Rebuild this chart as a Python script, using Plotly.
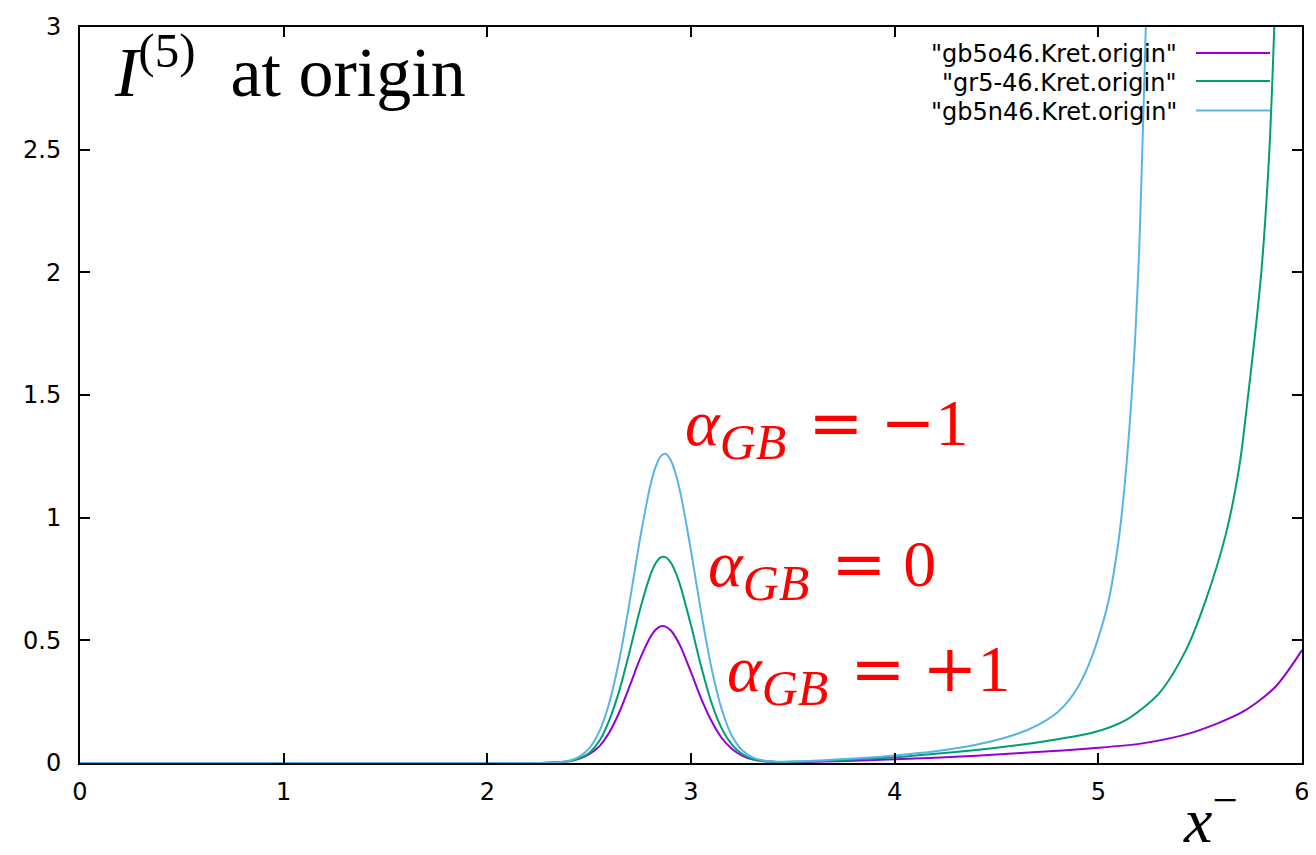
import plotly.graph_objects as go

# ---------------- data ----------------
series_names = ['"gb5o46.Kret.origin"', '"gr5-46.Kret.origin"', '"gb5n46.Kret.origin"']
series_colors = ["#9400d3", "#009e73", "#56b4e9"]

x_gb5o46 = [0.0, 2.2, 2.3, 2.35, 2.4, 2.45, 2.5, 2.55, 2.6, 2.65, 2.7, 2.75, 2.8, 2.825, 2.85, 2.875,
            2.9, 2.925, 2.95, 3.0, 3.05, 3.1, 3.15, 3.2, 3.25, 3.3, 3.35, 3.4, 3.45, 3.5, 3.6, 3.8,
            4.0, 4.2, 4.4, 4.6, 4.8, 4.97, 5.216, 5.46, 5.71, 5.87, 6.0]
y_gb5o46 = [0.0, 0.0, 0.001, 0.003, 0.007, 0.017, 0.036, 0.068, 0.126, 0.211, 0.316, 0.425, 0.513, 0.542, 0.557, 0.556,
            0.541, 0.512, 0.472, 0.370, 0.262, 0.172, 0.103, 0.058, 0.030, 0.015, 0.008, 0.005, 0.004, 0.004, 0.005, 0.009,
            0.015, 0.021, 0.030, 0.040, 0.050, 0.060, 0.080, 0.124, 0.209, 0.311, 0.46]

x_gr546 = [0.0, 2.2, 2.3, 2.35, 2.4, 2.45, 2.5, 2.55, 2.6, 2.65, 2.7, 2.75, 2.8, 2.825, 2.85, 2.875,
           2.9, 2.925, 2.95, 3.0, 3.05, 3.1, 3.15, 3.2, 3.25, 3.3, 3.35, 3.4, 3.45, 3.5, 3.6, 3.8,
           4.0, 4.2, 4.4, 4.6, 4.8, 4.97, 5.135, 5.298, 5.43, 5.528, 5.627, 5.692, 5.733, 5.80,
           5.84, 5.864, 5.88]
y_gr546 = [0.0, 0.0, 0.001, 0.003, 0.007, 0.018, 0.041, 0.090, 0.177, 0.301, 0.459, 0.627, 0.765, 0.812, 0.837, 0.839,
           0.818, 0.776, 0.716, 0.561, 0.393, 0.247, 0.142, 0.076, 0.037, 0.017, 0.008, 0.005, 0.004, 0.005, 0.007, 0.014,
           0.023, 0.038, 0.053, 0.072, 0.097, 0.123, 0.175, 0.284, 0.46, 0.665, 0.936, 1.208, 1.48, 2.0,
           2.5, 3.0, 3.4]

x_gb5n46 = [0.0, 2.2, 2.3, 2.35, 2.4, 2.45, 2.5, 2.55, 2.6, 2.65, 2.7, 2.75, 2.8, 2.825, 2.85, 2.875,
            2.9, 2.925, 2.95, 3.0, 3.05, 3.1, 3.15, 3.2, 3.25, 3.3, 3.35, 3.4, 3.45, 3.5, 3.6, 3.8,
            4.0, 4.2, 4.4, 4.6, 4.7, 4.8, 4.85, 4.9, 4.95, 5.0, 5.05, 5.1, 5.13, 5.16, 5.18,
            5.2, 5.216, 5.233, 5.25]
y_gb5n46 = [0.0, 0.0, 0.001, 0.003, 0.009, 0.025, 0.060, 0.129, 0.249, 0.430, 0.663, 0.915, 1.130, 1.204, 1.249, 1.260,
            1.235, 1.178, 1.093, 0.865, 0.613, 0.389, 0.221, 0.112, 0.053, 0.024, 0.011, 0.006, 0.005, 0.006, 0.009, 0.018,
            0.031, 0.048, 0.074, 0.118, 0.153, 0.207, 0.250, 0.310, 0.395, 0.51, 0.66, 0.91, 1.14, 1.45, 1.72,
            2.08, 2.5, 3.0, 3.6]

x_ticks = [0, 1, 2, 3, 4, 5, 6]
y_ticks = [0, 0.5, 1, 1.5, 2, 2.5, 3]

label_values = ["−1", "0", "+1"]
title_text = "<i>I</i><sup>(5)</sup>\u00a0 at origin"
xtitle_text = "<i>x</i><sup>−</sup>"

# ---------------- figure ----------------
# the page body has an 8px margin, so the figure is 8px smaller and shifted
OFF = 8
W, H = 1316 - OFF, 855 - OFF
PL, PT, PR, PB = 80, 27, 1302, 763          # wanted plot area in screen pixels
L, T = PL - OFF, PT - OFF
R = W - (PR - OFF)
B = H - (PB - OFF)
PW, PH = PR - PL, PB - PT


def px(xp):
    return (xp - PL) / PW


def py(yp):
    return (PB - yp) / PH


fig = go.Figure()
for xs, ys, name, col in zip([x_gb5o46, x_gr546, x_gb5n46], [y_gb5o46, y_gr546, y_gb5n46],
                             series_names, series_colors):
    fig.add_trace(go.Scatter(x=xs, y=ys, mode="lines", name=name,
                             line=dict(color=col, width=2, shape="spline", smoothing=0.8),
                             showlegend=False))

sans = "DejaVu Sans, Liberation Sans, Arial, sans-serif"
serif = "Liberation Serif, Times New Roman, serif"

axis_common = dict(showline=True, linecolor="black", linewidth=2, mirror="ticks",
                   ticks="inside", ticklen=10, tickwidth=1.5, tickcolor="black",
                   showgrid=False, zeroline=False,
                   tickfont=dict(family=sans, size=24, color="black"))

fig.update_layout(
    width=W, height=H,
    margin=dict(l=L, r=R, t=T, b=B, autoexpand=False),
    paper_bgcolor="white", plot_bgcolor="white",
    xaxis=dict(range=[0, 6], tickvals=x_ticks, ticklabelstandoff=6, **axis_common),
    yaxis=dict(range=[0, 3], tickvals=y_ticks, ticklabelstandoff=12, **axis_common),
    showlegend=False,
)

# manual gnuplot-style legend (text right, sample line after)
legend_rows = [53, 81, 110.5]
for name, col, yr in zip(series_names, series_colors, legend_rows):
    fig.add_annotation(xref="paper", yref="paper", x=px(1179), y=py(yr + 1.5), text=name,
                       showarrow=False, xanchor="right", yanchor="middle",
                       font=dict(family=sans, size=24, color="black"))
    fig.add_shape(type="line", xref="paper", yref="paper",
                  x0=px(1196), x1=px(1270), y0=py(yr), y1=py(yr),
                  line=dict(color=col, width=2))

# title inside the plot
fig.add_annotation(xref="paper", yref="paper", x=px(112), y=py(67), text=title_text,
                   showarrow=False, xanchor="left", yanchor="middle",
                   font=dict(family=serif, size=70, color="black"))

# red labels
math = "font-family:'DejaVu Serif'"
label_pos = [(683, 427), (706, 568), (725, 673)]
for val, (lx, ly) in zip(label_values, label_pos):
    sign = ""
    num = val
    if val[0] in "−+":
        sign = f'<span style="{math}">{val[0]}</span>'
        num = val[1:]
    txt = (f'<i>α</i><sub><i><span style="font-size:50px">GB</span></i></sub> \u200a'
           f'<span style="{math}">=</span> {sign}{num}')
    fig.add_annotation(xref="paper", yref="paper", x=px(lx), y=py(ly), text=txt,
                       showarrow=False, xanchor="left", yanchor="middle",
                       font=dict(family=serif, size=66, color="red"))

# x-axis title
fig.add_annotation(xref="paper", yref="paper", x=px(1181), y=py(815), text=xtitle_text,
                   showarrow=False, xanchor="left", yanchor="middle",
                   font=dict(family=serif, size=64, color="black"))

fig.write_html("out.html")
